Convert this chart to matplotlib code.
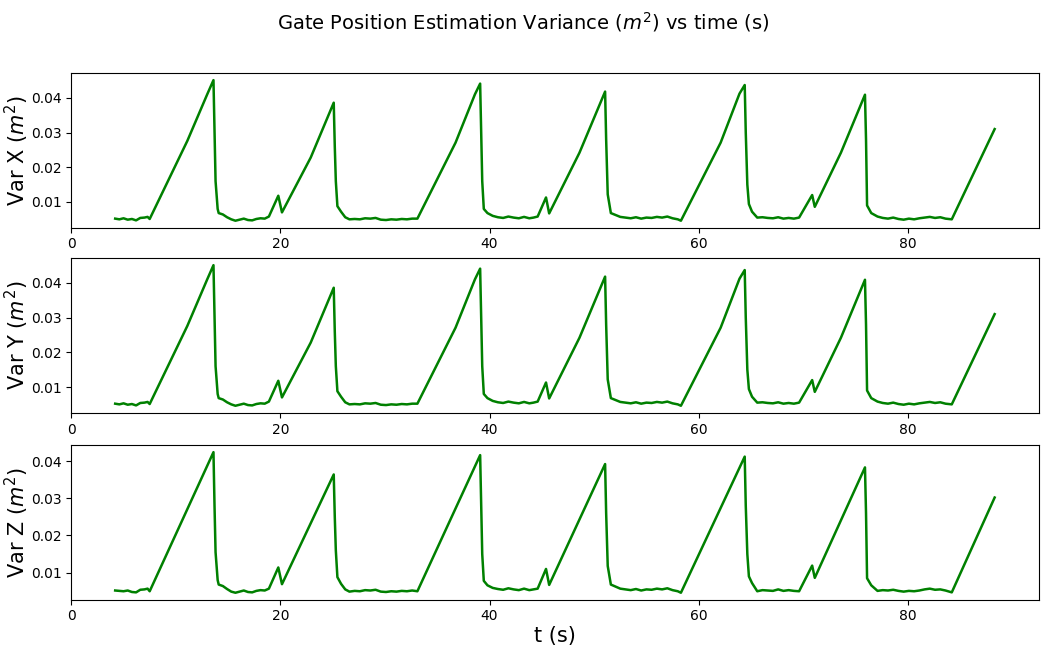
import numpy as np
import matplotlib.pyplot as plt

# time samples (s)
t = [4.2, 4.6, 5.0, 5.4, 5.8, 6.2, 6.6, 7.0, 7.3, 7.5,
     11.1, 13.0, 13.6, 13.7, 13.8, 14.0, 14.1, 14.5, 14.9, 15.3,
     15.7, 16.1, 16.5, 16.9, 17.3, 17.7, 18.1, 18.5, 18.9, 19.8,
     20.15, 22.9, 25.1, 25.2, 25.3, 25.45, 25.8, 26.2, 26.6, 27.1,
     27.6, 28.1, 28.6, 29.1, 29.6, 30.1, 30.6, 31.1, 31.6, 32.1,
     32.6, 33.1, 36.75, 38.6, 39.1, 39.2, 39.3, 39.45, 39.8, 40.3,
     40.8, 41.3, 41.8, 42.3, 42.8, 43.3, 43.8, 44.2, 44.6, 45.4,
     45.7, 48.6, 51.05, 51.15, 51.3, 51.6, 52.0, 52.5, 53.0, 53.5,
     54.0, 54.5, 55.0, 55.5, 56.0, 56.5, 57.0, 57.5, 58.0, 58.3,
     62.1, 63.9, 64.4, 64.5, 64.65, 64.8, 65.1, 65.6, 66.1, 66.6,
     67.1, 67.6, 68.1, 68.6, 69.1, 69.6, 70.85, 71.1, 73.6, 75.9,
     76.0, 76.05, 76.1, 76.5, 77.1, 77.6, 78.1, 78.6, 79.1, 79.6,
     80.1, 80.6, 81.1, 81.6, 82.1, 82.6, 83.1, 83.6, 84.2, 88.3]

var_x = [.0052, .0050, .0053, .0049, .0051, .0047, .0054, .0055, .0057, .0051,
         .0276, .0410, .0451, .0300, .0160, .0080, .0068, .0064, .0056, .0050,
         .0046, .0049, .0052, .0048, .0047, .0051, .0053, .0052, .0058, .0118,
         .0070, .0228, .0386, .0260, .0160, .0088, .0072, .0056, .0050, .0051,
         .0050, .0053, .0052, .0054, .0049, .0048, .0050, .0049, .0051, .0050,
         .0052, .0052, .0271, .0410, .0441, .0300, .0160, .0080, .0068, .0060,
         .0056, .0054, .0058, .0055, .0053, .0057, .0053, .0055, .0058, .0113,
         .0067, .0242, .0418, .0280, .0122, .0068, .0063, .0057, .0055, .0053,
         .0056, .0052, .0055, .0054, .0057, .0055, .0058, .0053, .0050, .0046,
         .0271, .0412, .0437, .0300, .0150, .0094, .0072, .0055, .0056, .0054,
         .0053, .0056, .0052, .0054, .0052, .0055, .0120, .0086, .0242, .0409,
         .0280, .0180, .0090, .0068, .0058, .0054, .0052, .0055, .0051, .0049,
         .0052, .0050, .0053, .0055, .0057, .0054, .0056, .0052, .0050, .0310]

# Y trace reads the same as X in the picture
var_y = list(var_x)

var_z = [.0052, .0051, .0050, .0052, .0048, .0047, .0054, .0055, .0057, .0050,
         .0271, .0387, .0424, .0280, .0155, .0080, .0068, .0064, .0056, .0049,
         .0046, .0049, .0052, .0048, .0047, .0051, .0053, .0052, .0057, .0114,
         .0069, .0233, .0364, .0250, .0160, .0088, .0070, .0055, .0049, .0051,
         .0050, .0053, .0052, .0054, .0049, .0048, .0050, .0049, .0051, .0050,
         .0052, .0050, .0273, .0386, .0416, .0280, .0150, .0078, .0066, .0059,
         .0056, .0054, .0058, .0055, .0053, .0057, .0053, .0055, .0057, .0110,
         .0067, .0243, .0392, .0260, .0118, .0068, .0063, .0057, .0055, .0053,
         .0056, .0052, .0055, .0054, .0057, .0055, .0058, .0053, .0050, .0046,
         .0274, .0382, .0412, .0280, .0150, .0090, .0072, .0050, .0053, .0052,
         .0051, .0055, .0051, .0053, .0051, .0050, .0119, .0086, .0241, .0383,
         .0260, .0170, .0085, .0066, .0051, .0053, .0052, .0054, .0051, .0049,
         .0051, .0050, .0052, .0055, .0057, .0054, .0055, .0052, .0047, .0302]

series = [var_x, var_y, var_z]
labels = ['Var X ($m^2$)', 'Var Y ($m^2$)', 'Var Z ($m^2$)']

fig = plt.figure(figsize=(10.47, 6.47), dpi=100)
fig.suptitle('Gate Position Estimation Variance ($m^2$) vs time (s)', fontsize=14, y=0.985)

tops = [0.887, 0.601, 0.312]
h = 0.239
for i in range(3):
    ax = fig.add_axes([0.068, tops[i] - h, 0.924, h])
    ax.plot(t, series[i], color='green', linewidth=1.8)
    ax.set_ylabel(labels[i], fontsize=15)
    ax.yaxis.set_label_coords(-0.042, 0.5)
    ax.set_xticks([0, 20, 40, 60, 80])
    ax.set_yticks([0.01, 0.02, 0.03, 0.04])
    ax.tick_params(labelsize=10)
    if i == 2:
        ax.set_xlabel('t (s)', fontsize=15, labelpad=2)

plt.savefig('out.png', dpi=100)
